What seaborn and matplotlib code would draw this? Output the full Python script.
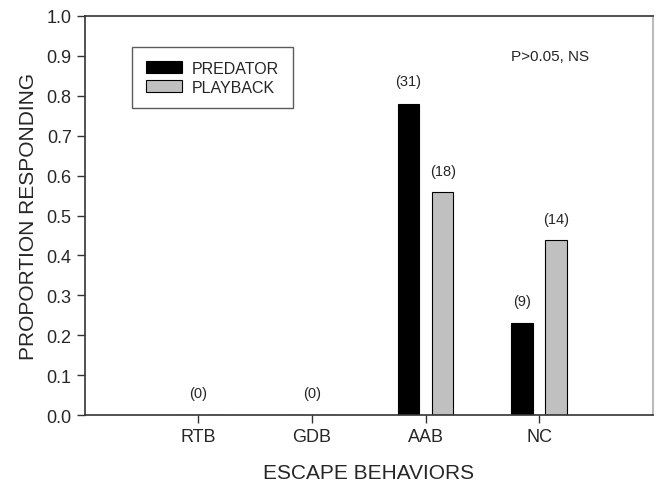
import seaborn as sns
import matplotlib.pyplot as plt
import pandas as pd
from matplotlib.patches import Patch

behaviors = ['RTB', 'GDB', 'AAB', 'NC']
groups = ['PREDATOR', 'PLAYBACK']
predator = [0.0, 0.0, 0.78, 0.23]
playback = [0.0, 0.0, 0.56, 0.44]
predator_n = [0, 0, 31, 9]
playback_n = [0, 0, 18, 14]
colors = ['#000000', '#c0c0c0']

df = pd.DataFrame({
    'behavior': behaviors * 2,
    'group': [groups[0]] * 4 + [groups[1]] * 4,
    'prop': predator + playback,
})

sns.set_style('ticks')
plt.rcParams['font.family'] = ['Liberation Sans', 'DejaVu Sans']

fig = plt.figure(figsize=(6.58, 4.85), dpi=100)
ax = fig.add_axes([0.129, 0.142, 0.863, 0.823])

sns.barplot(data=df, x='behavior', y='prop', hue='group', order=behaviors,
            hue_order=groups, palette=colors, width=0.6, gap=0.37,
            edgecolor='black', linewidth=0.8, legend=False, ax=ax)

# counts above bars
off = 0.15
for i in range(len(behaviors)):
    if predator_n[i] == 0 and playback_n[i] == 0:
        ax.text(i, 0.055, '(0)', ha='center', va='center', fontsize=10.5)
        continue
    ax.text(i - off, predator[i] + 0.057, f'({predator_n[i]})', ha='center', va='center', fontsize=10.5)
    ax.text(i + off, playback[i] + 0.052, f'({playback_n[i]})', ha='center', va='center', fontsize=10.5)

ax.text(0.82, 0.9, 'P>0.05, NS', transform=ax.transAxes, ha='center', va='center', fontsize=11)

ax.set_xlim(-1, 4)
ax.set_ylim(0, 1.0)
ax.set_yticks([i / 10 for i in range(11)])
ax.set_xlabel('ESCAPE BEHAVIORS', fontsize=15, labelpad=13)
ax.set_ylabel('PROPORTION RESPONDING', fontsize=15, labelpad=6)
ax.tick_params(axis='both', labelsize=13, length=6, width=1, color='#333333', direction='out')

for s in ['left', 'bottom', 'top']:
    ax.spines[s].set_color('#333333')
    ax.spines[s].set_linewidth(1.2)
ax.spines['right'].set_color('#bbbbbb')
ax.spines['right'].set_linewidth(1.5)

handles = [Patch(facecolor=c, edgecolor='black', linewidth=0.8) for c in colors]
leg = ax.legend(handles, groups, loc='upper left', bbox_to_anchor=(0.083, 0.922),
                borderaxespad=0, fontsize=11.5, frameon=True, fancybox=False,
                edgecolor='#333333', handlelength=2.3, handleheight=0.8,
                borderpad=0.85, labelspacing=0.25, handletextpad=0.6)
leg.get_frame().set_linewidth(1.0)

fig.savefig('out.png', dpi=100)
